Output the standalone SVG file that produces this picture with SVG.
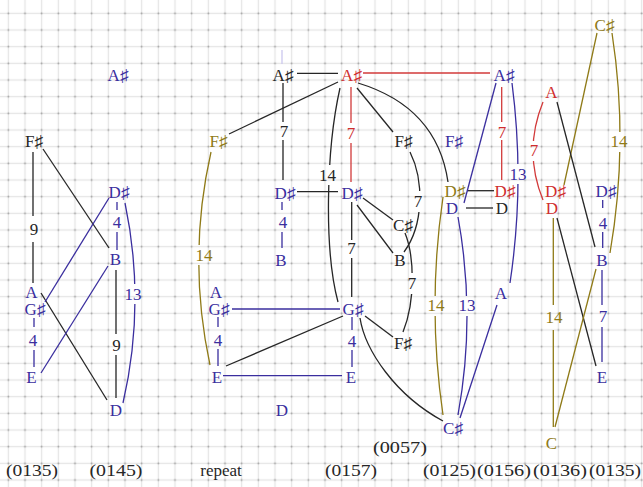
<svg xmlns="http://www.w3.org/2000/svg" width="643" height="487" viewBox="0 0 643 487">
<defs>
<style>
text{font-family:"Liberation Serif","DejaVu Serif",serif;font-size:17px;text-anchor:middle}
.k{fill:#262626}.p{fill:#3a2e9e}.r{fill:#cf2e2e}.o{fill:#8f7a17}
.cap{font-size:17px;fill:#262626}
.c{fill:none;stroke-width:1.3}
.ck{stroke:#262626}.cp{stroke:#3a2e9e}.cr{stroke:#d23a3a}.co{stroke:#8f7a17}
</style>
<pattern id="grid" patternUnits="userSpaceOnUse" x="0" y="5" width="16.6667" height="16.6667">
<line x1="8.333" y1="0" x2="8.333" y2="16.6667" stroke="#e4e4e4" stroke-width="1.3"/>
<line x1="0" y1="8.333" x2="16.6667" y2="8.333" stroke="#e4e4e4" stroke-width="1.3"/>
<circle cx="8.333" cy="8.333" r="0.9" fill="#a0a0a0"/>
</pattern>
<mask id="cut" maskUnits="userSpaceOnUse" x="0" y="0" width="643" height="487">
<rect width="643" height="487" fill="#fff"/>
<rect x="125" y="284" width="17" height="20" fill="#000"/>
<rect x="195" y="245" width="18" height="20" fill="#000"/>
<rect x="318" y="165" width="20" height="20" fill="#000"/>
<rect x="412" y="191" width="12" height="21" fill="#000"/>
<rect x="406" y="273" width="12" height="21" fill="#000"/>
<rect x="509" y="164" width="19" height="20" fill="#000"/>
<rect x="458" y="296" width="19" height="20" fill="#000"/>
<rect x="426" y="296" width="20" height="20" fill="#000"/>
<rect x="528" y="141" width="12" height="20" fill="#000"/>
<rect x="609" y="132" width="20" height="20" fill="#000"/>
</mask>
</defs>
<rect width="643" height="487" fill="#fff"/>
<rect width="643" height="487" fill="url(#grid)"/>

<g id="connectors" mask="url(#cut)">
<!-- panel 1 -->
<path class="c ck" d="M33,152V216M33,242V283"/>
<path class="c ck" d="M43,149L109,248"/>
<path class="c ck" d="M41,293L107,400"/>
<path class="c ck" d="M116,270V334M116,355V398"/>
<path class="c cp" d="M34,318V327M34,350V367"/>
<path class="c cp" d="M45,302L109,198"/>
<path class="c cp" d="M41,373L108,266"/>
<path class="c cp" d="M117,202V210M117,232V250"/>
<path class="c cp" d="M125,203Q146,303 123,403"/>
<!-- panel 3 -->
<path class="c" stroke="#cbc7ee" d="M282,50V64"/>
<path class="c ck" d="M283,83V122M283,140V180"/>
<path class="c ck" d="M297,73.3H338"/>
<path class="c ck" d="M297,191.7H338"/>
<path class="c cp" d="M282,202V210M282,232V248"/>
<path class="c ck" d="M338,82L229,134"/>
<path class="c co" d="M211,152Q187,258 210,365"/>
<path class="c cp" d="M218,317V327M218,349V366"/>
<path class="c cp" d="M232,309H340"/>
<path class="c cp" d="M223,375.7H342"/>
<path class="c ck" d="M226,366L343,316"/>
<!-- panel 4 -->
<path class="c cr" d="M363,73H490"/>
<path class="c cr" d="M351,87V123M351,143V182"/>
<path class="c ck" d="M340,88C326,150 324,250 338,302"/>
<path class="c ck" d="M357,88L393,132"/>
<path class="c ck" d="M358,83Q437,107 448,182"/>
<path class="c ck" d="M363,198L393,220"/>
<path class="c ck" d="M357,205L393,253"/>
<path class="c ck" d="M351.7,202V240M351.7,258V297"/>
<path class="c ck" d="M365,316L393,337"/>
<path class="c ck" d="M360,318C365,350 395,395 443,421"/>
<path class="c cp" d="M352,317V330M352,350V367"/>
<path class="c ck" d="M410,152C424,180 424,225 404,252"/>
<path class="c ck" d="M405,233C414,255 416,300 403,332"/>
<!-- panel 5 -->
<path class="c cr" d="M501.7,87V122M501.7,140V180"/>
<path class="c ck" d="M467,190.7H494"/>
<path class="c ck" d="M466,208H493"/>
<path class="c cp" d="M496,83L464,203"/>
<path class="c cp" d="M512,83Q525,183 510,283"/>
<path class="c cp" d="M497,305L460,418"/>
<path class="c cp" d="M458,217Q476,316 458,415"/>
<path class="c co" d="M443,197Q427,306 443,415"/>
<!-- panels 6/7 -->
<path class="c cr" d="M543,102Q523,151 543,200"/>
<path class="c co" d="M597,33L564,185"/>
<path class="c ck" d="M557,102L595,247"/>
<path class="c ck" d="M557,218L596,366"/>
<path class="c cp" d="M602.7,200V208M602.7,232V248"/>
<path class="c cp" d="M602,270V305M602,327V362"/>
<path class="c co" d="M612,33Q629,143 610,253"/>
<path class="c co" d="M596,269L555,427"/>
<path class="c co" d="M553.3,218V305M553.3,330V427"/>
</g>

<g id="edge-labels">
<text class="k" x="34" y="235">9</text>
<text class="p" x="33" y="346">4</text>
<text class="p" x="117" y="228">4</text>
<text class="p" x="133" y="300">13</text>
<text class="k" x="116.5" y="351">9</text>
<text class="k" x="284" y="137">7</text>
<text class="p" x="283" y="228">4</text>
<text class="o" x="204" y="261">14</text>
<text class="p" x="218" y="346">4</text>
<text class="r" x="351" y="139">7</text>
<text class="k" x="327.5" y="181">14</text>
<text class="k" x="418" y="207">7</text>
<text class="k" x="351.5" y="254">7</text>
<text class="k" x="412" y="289">7</text>
<text class="p" x="352" y="347">4</text>
<text class="r" x="502" y="138">7</text>
<text class="p" x="518" y="180">13</text>
<text class="p" x="467" y="311">13</text>
<text class="o" x="436" y="311">14</text>
<text class="r" x="534" y="156">7</text>
<text class="p" x="603" y="229">4</text>
<text class="o" x="619" y="147">14</text>
<text class="p" x="603" y="322">7</text>
<text class="o" x="554" y="323">14</text>
</g>

<g id="n1-As"><text class="p" x="118" y="81">A♯</text></g>
<g id="n1-Fs"><text class="k" x="34" y="147">F♯</text></g>
<g id="n1-A"><text class="p" x="31.5" y="298">A</text></g>
<g id="n1-Gs"><text class="p" x="35" y="315">G♯</text></g>
<g id="n1-E"><text class="p" x="31.5" y="383">E</text></g>
<g id="n1-Ds"><text class="p" x="119" y="198">D♯</text></g>
<g id="n1-B"><text class="p" x="115.5" y="265">B</text></g>
<g id="n1-D"><text class="p" x="116" y="416">D</text></g>

<g id="n3-As"><text class="k" x="283" y="81">A♯</text></g>
<g id="n3-Ds"><text class="p" x="285" y="199">D♯</text></g>
<g id="n3-B"><text class="p" x="281" y="266">B</text></g>
<g id="n3-Fs"><text class="o" x="218.5" y="147">F♯</text></g>
<g id="n3-A"><text class="p" x="216" y="298">A</text></g>
<g id="n3-Gs"><text class="p" x="219" y="315">G♯</text></g>
<g id="n3-E"><text class="p" x="217" y="383">E</text></g>
<g id="n3-D"><text class="p" x="282" y="416">D</text></g>

<g id="n4-As"><text class="r" x="351.5" y="81">A♯</text></g>
<g id="n4-Ds"><text class="p" x="352" y="199">D♯</text></g>
<g id="n4-Fs"><text class="k" x="403.5" y="147">F♯</text></g>
<g id="n4-Cs"><text class="k" x="403" y="231">C♯</text></g>
<g id="n4-B"><text class="k" x="400" y="266">B</text></g>
<g id="n4-Gs"><text class="p" x="353" y="315">G♯</text></g>
<g id="n4-E"><text class="p" x="351" y="383">E</text></g>
<g id="n4-Fs2"><text class="k" x="403" y="349">F♯</text></g>
<g id="n4-Cs2"><text class="p" x="453" y="434">C♯</text></g>

<g id="n5-As"><text class="p" x="504" y="81">A♯</text></g>
<g id="n5-Fs"><text class="p" x="454" y="147">F♯</text></g>
<g id="n5-Ds-o"><text class="o" x="455" y="197">D♯</text></g>
<g id="n5-D-p"><text class="p" x="452" y="214">D</text></g>
<g id="n5-Ds-r"><text class="r" x="505" y="197">D♯</text></g>
<g id="n5-D-k"><text class="k" x="502" y="214">D</text></g>
<g id="n5-A"><text class="p" x="501" y="299">A</text></g>

<g id="n6-Cs"><text class="o" x="604.5" y="31">C♯</text></g>
<g id="n6-A"><text class="r" x="551.5" y="98">A</text></g>
<g id="n6-Ds"><text class="r" x="555.5" y="197">D♯</text></g>
<g id="n6-D"><text class="r" x="552" y="214">D</text></g>
<g id="n6-C"><text class="o" x="551.5" y="449">C</text></g>
<g id="n7-Ds"><text class="p" x="606" y="197">D♯</text></g>
<g id="n7-B"><text class="p" x="602" y="266">B</text></g>
<g id="n7-E"><text class="p" x="602" y="383">E</text></g>

<g id="captions">
<text class="cap" x="32" y="476" textLength="52" lengthAdjust="spacingAndGlyphs">(0135)</text>
<text class="cap" x="116" y="476" textLength="53" lengthAdjust="spacingAndGlyphs">(0145)</text>
<text class="cap" x="221" y="476">repeat</text>
<text class="cap" x="351" y="476" textLength="52" lengthAdjust="spacingAndGlyphs">(0157)</text>
<text class="cap" x="400" y="453" textLength="54" lengthAdjust="spacingAndGlyphs">(0057)</text>
<text class="cap" x="449.5" y="476" textLength="53" lengthAdjust="spacingAndGlyphs">(0125)</text>
<text class="cap" x="504" y="476" textLength="54" lengthAdjust="spacingAndGlyphs">(0156)</text>
<text class="cap" x="560" y="476" textLength="54" lengthAdjust="spacingAndGlyphs">(0136)</text>
<text class="cap" x="615" y="476" textLength="52" lengthAdjust="spacingAndGlyphs">(0135)</text>
</g>
</svg>
